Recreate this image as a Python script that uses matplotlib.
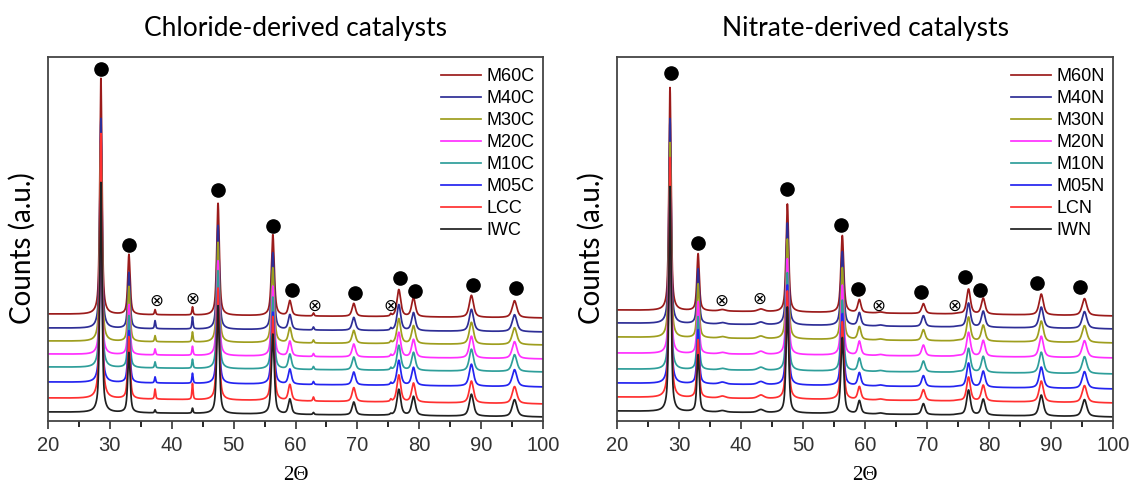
import numpy as np
import matplotlib
matplotlib.use("Agg")
import matplotlib.pyplot as plt
from matplotlib.ticker import MultipleLocator

# dados (alturas em unidades arbitrárias, "pixels")
series_c = ["M60C", "M40C", "M30C", "M20C", "M10C", "M05C", "LCC", "IWC"]
series_n = ["M60N", "M40N", "M30N", "M20N", "M10N", "M05N", "LCN", "IWN"]
cores = ["#9B1B1B", "#2E2E96", "#9E9E1E", "#FF30FF", "#2E9E9A", "#2424F0", "#FF3030", "#202020"]

# picos da fluorita (CeO2)
pos_picos = [28.55, 33.08, 47.48, 56.34, 59.09, 69.42, 76.70, 79.07, 88.43, 95.40]
larg_picos = [0.42, 0.46, 0.50, 0.55, 0.60, 0.66, 0.72, 0.72, 0.82, 0.90]

# linha de base (inicio em 20, fim em 100) de cada curva
base_ini_c = [107, 93, 80, 67, 54, 39, 23, 9]
base_fim_c = [103, 89, 76, 62, 49, 34, 17, 4]
base_ini_n = [111, 98, 84, 68, 52, 38, 24, 10]
base_fim_n = [105, 92, 78, 63, 47, 32, 18, 4]

alt_c = {
    "M60C": [236, 60, 112, 81, 15, 13, 27, 19, 22, 17],
    "M40C": [210, 56, 104, 77, 15, 13, 26, 18, 22, 17],
    "M30C": [200, 55, 100, 75, 15, 13, 25, 18, 22, 17],
    "M20C": [160, 50, 95, 70, 15, 13, 25, 18, 22, 17],
    "M10C": [195, 52, 98, 72, 15, 13, 25, 18, 22, 17],
    "M05C": [185, 52, 95, 72, 15, 13, 25, 18, 22, 17],
    "LCC":  [265, 62, 112, 84, 16, 14, 27, 19, 22, 17],
    "IWC":  [230, 60, 108, 80, 15, 13, 26, 19, 22, 17],
}
alt_n = {
    "M60N": [223, 57, 108, 77, 13, 10, 25, 16, 21, 17],
    "M40N": [205, 55, 102, 74, 13, 11, 24, 16, 21, 17],
    "M30N": [195, 54, 100, 72, 13, 11, 24, 16, 21, 17],
    "M20N": [170, 52, 96, 70, 14, 11, 24, 16, 21, 17],
    "M10N": [185, 53, 98, 71, 13, 11, 24, 16, 21, 17],
    "M05N": [190, 54, 100, 72, 13, 11, 24, 16, 21, 17],
    "LCN":  [240, 58, 108, 78, 13, 11, 24, 16, 21, 17],
    "IWN":  [225, 57, 106, 76, 13, 11, 25, 16, 21, 17],
}

# picos de impureza (⊗)
pos_imp_c = [37.3, 43.35, 62.9, 75.4]
larg_imp_c = [0.22, 0.22, 0.25, 0.25]
alt_imp_c = {
    "M60C": [5, 8, 3, 2], "M40C": [8, 12, 3, 2], "M30C": [6, 10, 3, 2],
    "M20C": [6, 9, 3, 2], "M10C": [6, 9, 3, 2], "M05C": [6, 10, 3, 2],
    "LCC": [10, 16, 4, 2], "IWC": [3, 5, 2, 1],
}
pos_imp_n = [37.0, 43.2, 62.5, 75.0]
larg_imp_n = [1.2, 1.2, 1.0, 1.0]
alt_imp_n = {
    "M60N": [1.5, 2.5, 1, 0.5], "M40N": [1.5, 2.5, 1, 0.5], "M30N": [1.5, 2.5, 1, 0.5],
    "M20N": [1.5, 3, 1, 0.5], "M10N": [1.5, 3, 1, 0.5], "M05N": [2, 3, 1, 0.5],
    "LCN": [2, 3.5, 1, 0.5], "IWN": [1.5, 3, 1, 0.5],
}

# marcadores (posicao 2theta, altura)
circ_x_c = [28.55, 33.1, 47.5, 56.3, 59.4, 69.6, 76.9, 79.3, 88.7, 95.6]
circ_y_c = [352, 176, 231, 195, 131, 128, 143, 130, 136, 133]
otimes_x_c = [37.45, 43.4, 63.0, 75.4]
otimes_y_c = [120, 122, 115, 115]
circ_x_n = [28.7, 33.0, 47.4, 56.1, 58.9, 69.1, 76.2, 78.5, 87.8, 94.6]
circ_y_n = [348, 178, 232, 196, 132, 129, 144, 131, 138, 134]
otimes_x_n = [36.9, 42.9, 62.1, 74.4]
otimes_y_n = [120, 122, 115, 115]


def perfil(x, pos, larg, alt):
    # pseudo-voigt simples
    y = np.zeros_like(x)
    for p, w, h in zip(pos, larg, alt):
        g = np.exp(-4*np.log(2)*((x-p)/w)**2)
        l = 1/(1+4*((x-p)/w)**2)
        y += h*(0.35*g + 0.65*l)
    return y


def painel(ax, nomes, base_ini, base_fim, alt, alt_imp, pos_imp, larg_imp,
           cx, cy, ox, oy, titulo):
    x = np.linspace(20, 100, 6000)
    for nome, b0, b1, cor in zip(nomes, base_ini, base_fim, cores):
        base = b0 + (b1-b0)*(x-20)/80
        y = base + perfil(x, pos_picos, larg_picos, alt[nome]) + perfil(x, pos_imp, larg_imp, alt_imp[nome])
        ax.plot(x, y, color=cor, lw=1.25, label=nome)
    ax.plot(cx, cy, "o", color="black", ms=9.5, ls="none")
    for a, b in zip(ox, oy):
        ax.text(a, b, "\u2297", ha="center", va="center", fontsize=12, family="DejaVu Sans")
    ax.set_xlim(20, 100)
    ax.set_ylim(0, 364)
    ax.xaxis.set_major_locator(MultipleLocator(10))
    ax.xaxis.set_minor_locator(MultipleLocator(5))
    ax.tick_params(axis="x", which="major", length=6, width=1.2, labelsize=14.5, pad=5, colors="#333333")
    ax.tick_params(axis="x", which="minor", length=4, width=1.2)
    ax.set_yticks([])
    for s in ax.spines.values():
        s.set_color("#444444")
        s.set_linewidth(1.3)
    ax.set_xlabel("2\u0398", family="Liberation Serif", fontsize=15, labelpad=8)
    ax.set_ylabel("Counts (a.u.)", family="Lato", fontsize=20)
    ax.yaxis.set_label_coords(-0.024, 0.475)
    ax.set_title(titulo, family="Lato", fontsize=19, pad=15)
    ax.legend(loc="upper right", frameon=False, fontsize=13, handlelength=2.2,
              labelspacing=0.28, handletextpad=0.3, borderaxespad=0.2,
              bbox_to_anchor=(1.005, 1.0))


plt.rcParams["font.family"] = ["Liberation Sans", "DejaVu Sans"]
fig = plt.figure(figsize=(11.3, 4.9), dpi=100)
ax1 = fig.add_axes([48/1130, 69/490, 495/1130, 364/490])
ax2 = fig.add_axes([617/1130, 69/490, 496/1130, 364/490])

painel(ax1, series_c, base_ini_c, base_fim_c, alt_c, alt_imp_c, pos_imp_c, larg_imp_c,
       circ_x_c, circ_y_c, otimes_x_c, otimes_y_c, "Chloride-derived catalysts")
painel(ax2, series_n, base_ini_n, base_fim_n, alt_n, alt_imp_n, pos_imp_n, larg_imp_n,
       circ_x_n, circ_y_n, otimes_x_n, otimes_y_n, "Nitrate-derived catalysts")

fig.savefig("out.png", dpi=100)
